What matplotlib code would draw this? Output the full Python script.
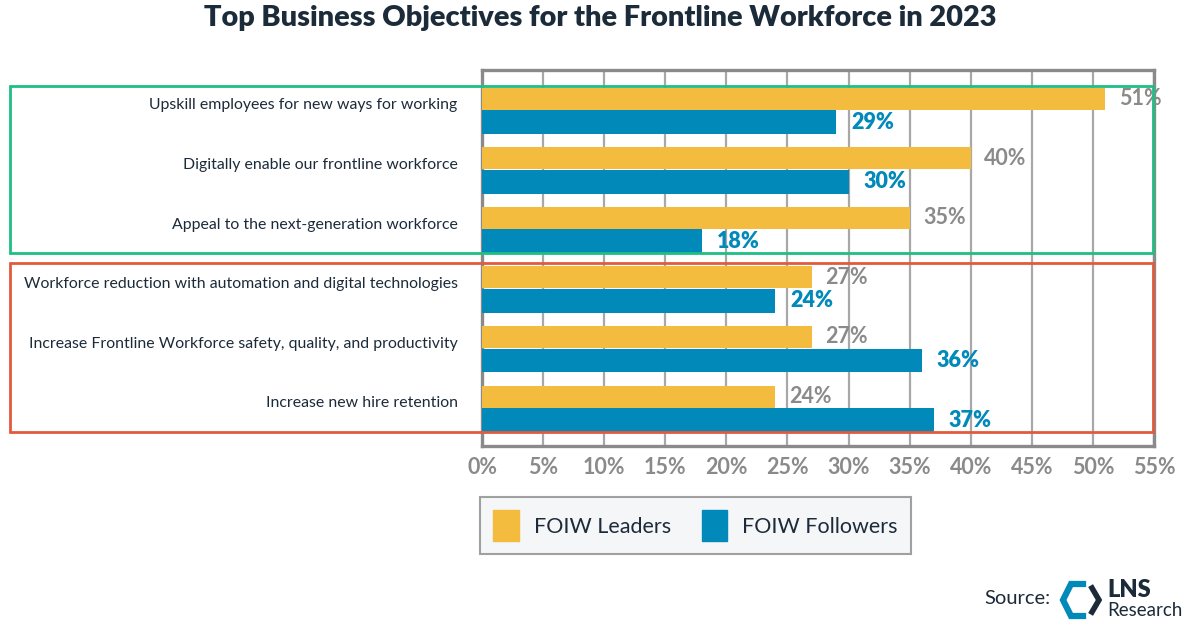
import matplotlib
matplotlib.use("Agg")
import matplotlib.pyplot as plt
import numpy as np
from matplotlib.patches import Rectangle

# ── data ──────────────────────────────────────────────────────────────────────
categories = [
    "Upskill employees for new ways for working",
    "Digitally enable our frontline workforce",
    "Appeal to the next-generation workforce",
    "Workforce reduction with automation and digital technologies",
    "Increase Frontline Workforce safety, quality, and productivity",
    "Increase new hire retention",
]
leaders   = [51, 40, 35, 27, 27, 24]
followers = [29, 30, 18, 24, 36, 37]
xticks    = list(range(0, 56, 5))

YELLOW = "#F4BC3F"
BLUE   = "#0089B9"
NAVY   = "#1C2B3A"
GRAY   = "#8A8A8A"
FONT   = "Lato"

plt.rcParams["font.family"] = [FONT, "DejaVu Sans"]

fig = plt.figure(figsize=(12.01, 6.31), dpi=100)
W, H = 1201, 631
ax = fig.add_axes([482 / W, 1 - 446 / H, 672 / W, 376 / H])

y = np.arange(len(categories))
ax.barh(y - 0.19, leaders, height=0.37, color=YELLOW, zorder=3)
ax.barh(y + 0.205, followers, height=0.40, color=BLUE, zorder=3)

for yi, v in zip(y, leaders):
    ax.text(v + 1.1, yi - 0.19, f"{v}%", va="center", ha="left",
            fontsize=15.5, color=GRAY, fontweight="bold", zorder=4)
for yi, v in zip(y, followers):
    ax.text(v + 1.2, yi + 0.205, f"{v}%", va="center", ha="left",
            fontsize=15.5, color=BLUE, fontweight="heavy", zorder=4)

ax.set_xlim(0, 55)
ax.set_ylim(5.64, -0.67)
ax.set_xticks(xticks)
ax.set_xticklabels([f"{t}%" for t in xticks], fontsize=15.5, color=GRAY,
                   fontweight="bold")
ax.set_yticks(y - 0.1)
ax.set_yticklabels(categories, fontsize=11.4, color=NAVY)
ax.tick_params(axis="y", length=0, pad=17.5)
ax.tick_params(axis="x", length=0, pad=8)
ax.grid(axis="x", color="#A8A8A8", lw=1.6, zorder=0)
for s in ax.spines.values():
    s.set_color(GRAY)
    s.set_linewidth(2.4)

fig.text(0.5, 1 - 18 / H, "Top Business Objectives for the Frontline Workforce in 2023",
         ha="center", va="center", fontsize=20.8, fontweight="heavy", color=NAVY)

# highlight boxes
fig.add_artist(Rectangle((10 / W, 1 - 253 / H), 1143 / W, 167 / H, fill=False,
                         edgecolor="#1DBF84", lw=2, transform=fig.transFigure))
fig.add_artist(Rectangle((10 / W, 1 - 432 / H), 1143 / W, 169 / H, fill=False,
                         edgecolor="#E25A3C", lw=2, transform=fig.transFigure))

# legend
h1 = Rectangle((0, 0), 1, 1, color=YELLOW)
h2 = Rectangle((0, 0), 1, 1, color=BLUE)
leg = fig.legend([h1, h2], ["FOIW Leaders", "FOIW Followers"], loc="upper left",
                 bbox_to_anchor=(480 / W, 1 - 497 / H), borderaxespad=0, ncol=2,
                 fontsize=15.5, frameon=True, fancybox=False, handlelength=1.2,
                 handleheight=1.8, handletextpad=0.7, columnspacing=1.4,
                 borderpad=0.62)
leg.get_frame().set_facecolor("#F3F4F6")
leg.get_frame().set_edgecolor(GRAY)
leg.get_frame().set_linewidth(1.5)
for t in leg.get_texts():
    t.set_color(NAVY)

# source + logo
fig.text(1050 / W, 1 - 599 / H, "Source:", ha="right", va="center",
         fontsize=14.5, color=NAVY)
lax = fig.add_axes([1055 / W, 1 - 625 / H, 140 / W, 50 / H])
lax.set_xlim(1055, 1195)
lax.set_ylim(625, 575)
lax.axis("off")
lax.plot([1083, 1071, 1063, 1071, 1083], [584, 584, 600, 616, 616],
         color=BLUE, lw=4.5, solid_joinstyle="miter")
lax.plot([1092, 1099, 1092], [588, 600, 612], color=NAVY, lw=4,
         solid_joinstyle="miter")
lax.text(1107, 590, "LNS", ha="left", va="center", fontsize=17,
         fontweight="heavy", color=NAVY)
lax.text(1107, 611, "Research", ha="left", va="center", fontsize=13.5,
         color=NAVY)

fig.savefig("out.png", dpi=100)
